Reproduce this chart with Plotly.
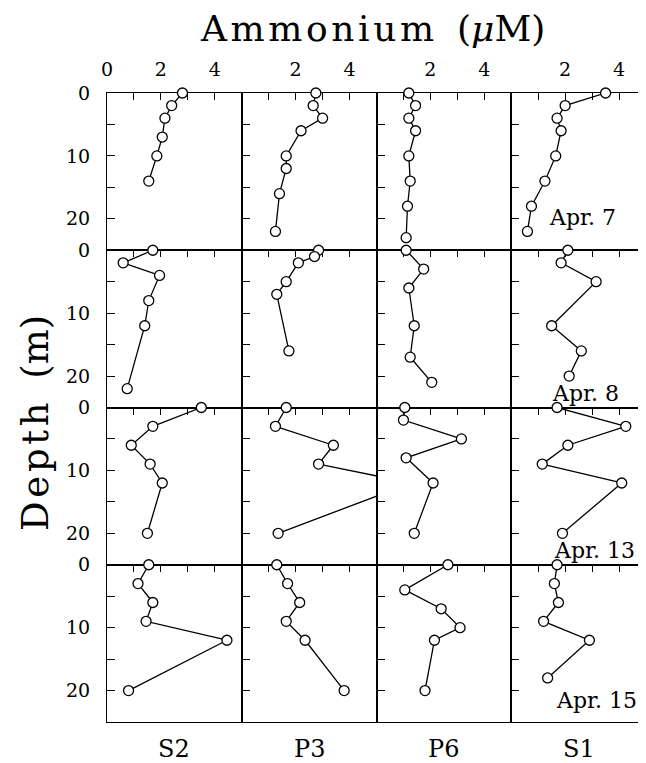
import plotly.graph_objects as go

stations = ["S2", "P3", "P6", "S1"]
dates = ["Apr. 7", "Apr. 8", "Apr. 13", "Apr. 15"]

x_tickvals = [0, 1, 2, 3, 4]
x_ticktext_first = ["0", "", "2", "", "4"]
x_ticktext_other = ["", "", "2", "", "4"]
y_tickvals = [0, 5, 10, 15, 20]
y_ticktext = ["0", "", "10", "", "20"]

# ---- Apr. 7 ----
s2_apr7_depth = [0, 2, 4, 7, 10, 14]
s2_apr7_nh4 = [2.8, 2.4, 2.15, 2.05, 1.85, 1.55]
p3_apr7_depth = [0, 2, 4, 6, 10, 12, 16, 22]
p3_apr7_nh4 = [2.75, 2.65, 3.0, 2.2, 1.65, 1.65, 1.4, 1.25]
p6_apr7_depth = [0, 2, 4, 6, 10, 14, 18, 23]
p6_apr7_nh4 = [1.2, 1.45, 1.2, 1.45, 1.2, 1.25, 1.15, 1.1]
s1_apr7_depth = [0, 2, 4, 6, 10, 14, 18, 22]
s1_apr7_nh4 = [3.5, 2.0, 1.7, 1.85, 1.65, 1.25, 0.75, 0.6]

# ---- Apr. 8 ----
s2_apr8_depth = [0, 2, 4, 8, 12, 22]
s2_apr8_nh4 = [1.7, 0.6, 1.95, 1.55, 1.4, 0.75]
p3_apr8_depth = [0, 1, 2, 5, 7, 16]
p3_apr8_nh4 = [2.85, 2.7, 2.1, 1.65, 1.3, 1.75]
p6_apr8_depth = [0, 3, 6, 12, 17, 21]
p6_apr8_nh4 = [1.1, 1.75, 1.2, 1.4, 1.25, 2.05]
s1_apr8_depth = [0, 2, 5, 12, 16, 20]
s1_apr8_nh4 = [2.1, 1.85, 3.15, 1.5, 2.6, 2.15]

# ---- Apr. 13 ----
s2_apr13_depth = [0, 3, 6, 9, 12, 20]
s2_apr13_nh4 = [3.5, 1.7, 0.9, 1.6, 2.05, 1.5]
p3_apr13_depth = [0, 3, 6, 9, 12, 20]
p3_apr13_nh4 = [1.65, 1.25, 3.4, 2.85, 6.3, 1.35]
p6_apr13_depth = [0, 2, 5, 8, 12, 20]
p6_apr13_nh4 = [1.05, 1.0, 3.15, 1.1, 2.1, 1.4]
s1_apr13_depth = [0, 3, 6, 9, 12, 20]
s1_apr13_nh4 = [1.7, 4.25, 2.1, 1.15, 4.1, 1.9]

# ---- Apr. 15 ----
s2_apr15_depth = [0, 3, 6, 9, 12, 20]
s2_apr15_nh4 = [1.55, 1.15, 1.7, 1.45, 4.45, 0.8]
p3_apr15_depth = [0, 3, 6, 9, 12, 20]
p3_apr15_nh4 = [1.3, 1.7, 2.15, 1.65, 2.35, 3.8]
p6_apr15_depth = [0, 4, 7, 10, 12, 20]
p6_apr15_nh4 = [2.65, 1.05, 2.4, 3.1, 2.15, 1.8]
s1_apr15_depth = [0, 3, 6, 9, 12, 18]
s1_apr15_nh4 = [1.7, 1.6, 1.75, 1.2, 2.9, 1.35]

panels = [
    [(s2_apr7_depth, s2_apr7_nh4), (p3_apr7_depth, p3_apr7_nh4),
     (p6_apr7_depth, p6_apr7_nh4), (s1_apr7_depth, s1_apr7_nh4)],
    [(s2_apr8_depth, s2_apr8_nh4), (p3_apr8_depth, p3_apr8_nh4),
     (p6_apr8_depth, p6_apr8_nh4), (s1_apr8_depth, s1_apr8_nh4)],
    [(s2_apr13_depth, s2_apr13_nh4), (p3_apr13_depth, p3_apr13_nh4),
     (p6_apr13_depth, p6_apr13_nh4), (s1_apr13_depth, s1_apr13_nh4)],
    [(s2_apr15_depth, s2_apr15_nh4), (p3_apr15_depth, p3_apr15_nh4),
     (p6_apr15_depth, p6_apr15_nh4), (s1_apr15_depth, s1_apr15_nh4)],
]

# label placement (data coords in S1 panels)
date_label_x = [1.34, 1.42, 1.5, 1.6]
date_label_y = [19.8, 22.7, 22.8, 21.6]

FONT = "DejaVu Serif"
HS = "\u200a"  # hair space to mimic the wide letter spacing


def spaced(s):
    return HS.join(list(s))


fig = go.Figure()
layout = {}

for r in range(4):
    for c in range(4):
        n = r * 4 + c + 1
        sfx = "" if n == 1 else str(n)
        depth, vals = panels[r][c]
        fig.add_trace(go.Scatter(
            x=vals, y=depth, mode="lines+markers",
            xaxis="x" + sfx, yaxis="y" + sfx,
            line=dict(color="black", width=1.3),
            marker=dict(symbol="circle", size=10, color="white",
                        line=dict(color="black", width=1.3)),
            cliponaxis=False, showlegend=False, hoverinfo="skip",
        ))
        layout["xaxis" + sfx] = dict(
            domain=[c / 4, (c + 1) / 4], anchor="y" + sfx,
            range=[0, 5], side="top",
            tickvals=x_tickvals,
            ticktext=x_ticktext_first if c == 0 else x_ticktext_other,
            showticklabels=(r == 0),
            ticks="inside", ticklen=7, tickwidth=1.2, tickcolor="black",
            showline=True, linecolor="black", linewidth=1.1, mirror=True,
            showgrid=False, zeroline=False, layer="below traces",
            ticklabelstandoff=8,
            tickfont=dict(family=FONT, size=19, color="black"),
        )
        layout["yaxis" + sfx] = dict(
            domain=[1 - (r + 1) / 4, 1 - r / 4], anchor="x" + sfx,
            range=[25, 0],
            tickvals=y_tickvals, ticktext=y_ticktext,
            showticklabels=(c == 0),
            ticks="inside", ticklen=8, tickwidth=1.2, tickcolor="black",
            showline=True, linecolor="black", linewidth=1.1, mirror=True,
            showgrid=False, zeroline=False, layer="below traces",
            ticklabelstandoff=12,
            tickfont=dict(family=FONT, size=19, color="black"),
        )

annotations = [
    dict(text=spaced("Ammonium") + "  (<i>μ</i>M)", xref="paper", yref="paper",
         x=0.492, y=1.102, xanchor="center", yanchor="middle",
         showarrow=False, font=dict(family=FONT, size=36, color="black")),
    dict(text=spaced("Depth") + "  (m)", xref="paper", yref="paper",
         textangle=-90,
         x=-0.134, y=0.475, xanchor="center", yanchor="middle",
         showarrow=False, font=dict(family=FONT, size=37, color="black")),
]
for c, name in enumerate(stations):
    annotations.append(dict(
        text=name, xref="paper", yref="paper", x=(c + 0.5) / 4, y=-0.043,
        xanchor="center", yanchor="middle", showarrow=False,
        font=dict(family=FONT, size=24, color="black")))
for r, d in enumerate(dates):
    n = r * 4 + 4
    annotations.append(dict(
        text=d, xref="x" + str(n), yref="y" + str(n),
        x=date_label_x[r], y=date_label_y[r],
        xanchor="left", yanchor="middle", showarrow=False,
        font=dict(family=FONT, size=22, color="black")))

fig.update_layout(
    **layout,
    annotations=annotations,
    width=638, height=755,
    margin=dict(l=99, r=0, t=85, b=41),
    paper_bgcolor="white", plot_bgcolor="white",
)

fig.write_html("out.html")
